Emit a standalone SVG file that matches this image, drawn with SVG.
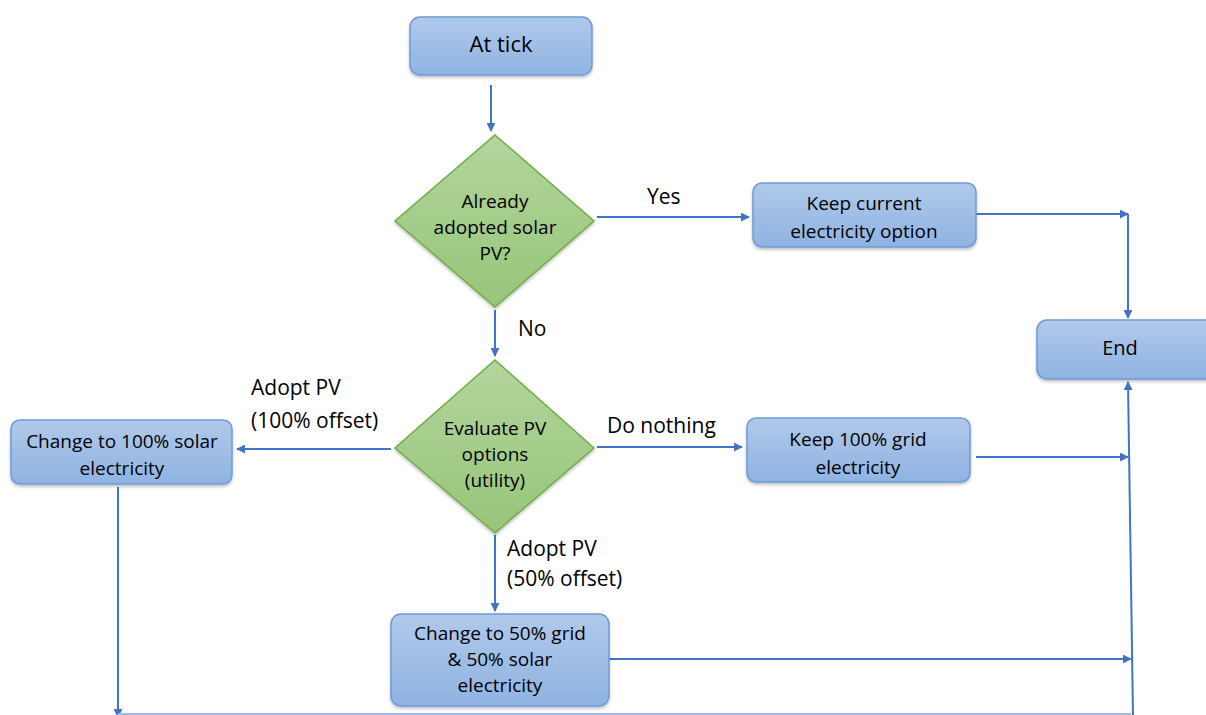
<svg xmlns="http://www.w3.org/2000/svg" width="1206" height="715" viewBox="0 0 1206 715">
<defs>
<linearGradient id="gb" x1="0" y1="0" x2="0" y2="1"><stop offset="0" stop-color="#b0c9ea"/><stop offset="1" stop-color="#8fb3e2"/></linearGradient>
<linearGradient id="gg" x1="0" y1="0" x2="0" y2="1"><stop offset="0" stop-color="#b2d59c"/><stop offset="1" stop-color="#97c579"/></linearGradient>
<marker id="ar" viewBox="0 0 10 10" refX="9" refY="5" markerWidth="4.5" markerHeight="4.5" orient="auto-start-reverse"><path d="M0,0 L10,5 L0,10 z" fill="#4472c4"/></marker>
<filter id="sh" x="-10%" y="-10%" width="120%" height="130%"><feDropShadow dx="0" dy="2" stdDeviation="1.5" flood-color="#000" flood-opacity="0.25"/></filter>
</defs>
<style>
.box{fill:url(#gb);stroke:#6d9ad6;stroke-width:1.5;filter:url(#sh)}
.dia{fill:url(#gg);stroke:#70ad47;stroke-width:1.5;filter:url(#sh)}
.t{font-family:"Open Sans","Liberation Sans",sans-serif;font-size:19px;fill:#000;text-anchor:middle}
.l{font-family:"Open Sans","Liberation Sans",sans-serif;font-size:21px;fill:#000}
.c{fill:none;stroke:#4472c4;stroke-width:2}
.ca{fill:none;stroke:#4472c4;stroke-width:2;marker-end:url(#ar)}
</style>
<g id="connectors">
<line class="ca" x1="491" y1="85" x2="491" y2="131"/>
<line class="ca" x1="597" y1="217" x2="749" y2="217"/>
<line class="ca" x1="976" y1="214" x2="1128" y2="214"/>
<line class="ca" x1="1128" y1="214" x2="1128" y2="318"/>
<line class="ca" x1="495" y1="310" x2="495" y2="356"/>
<line class="ca" x1="391" y1="449" x2="237" y2="449"/>
<line class="ca" x1="597" y1="447" x2="742" y2="447"/>
<line class="ca" x1="976" y1="457" x2="1128" y2="457"/>
<line class="ca" x1="495" y1="535" x2="495" y2="611"/>
<line class="ca" x1="609" y1="659" x2="1131" y2="659"/>
<line class="ca" x1="118" y1="487" x2="118" y2="717"/>
<line x1="118" y1="714" x2="1131" y2="714" stroke="#9ebbe6" stroke-width="2"/>
<line class="ca" x1="1133" y1="716" x2="1128" y2="382"/>
<text class="l" x="647" y="204">Yes</text>
<text class="l" x="518" y="336">No</text>
<text class="l" x="251" y="395">Adopt PV</text>
<text class="l" x="251" y="428">(100% offset)</text>
<text class="l" x="607" y="433">Do nothing</text>
<text class="l" x="507" y="556">Adopt PV</text>
<text class="l" x="507" y="586">(50% offset)</text>
</g>
<g id="n-tick"><rect class="box" x="410" y="17" width="182" height="58" rx="10"/><text class="t" x="501" y="52" style="font-size:22px">At tick</text></g>
<g id="n-adopted"><polygon class="dia" points="495,135 594,221 495,307 395,221"/><text class="t" x="495" y="208">Already</text><text class="t" x="495" y="234">adopted solar</text><text class="t" x="495" y="260">PV?</text></g>
<g id="n-keepcur"><rect class="box" x="753" y="183" width="223" height="64" rx="9"/><text class="t" x="864" y="210">Keep current</text><text class="t" x="864" y="238">electricity option</text></g>
<g id="n-end"><rect class="box" x="1037" y="320" width="180" height="59" rx="10"/><text class="t" x="1120" y="355" style="font-size:20px">End</text></g>
<g id="n-eval"><polygon class="dia" points="495,360 594,448 495,533 395,448"/><text class="t" x="495" y="435">Evaluate PV</text><text class="t" x="495" y="461">options</text><text class="t" x="495" y="487">(utility)</text></g>
<g id="n-solar100"><rect class="box" x="11" y="420" width="221" height="64" rx="9"/><text class="t" x="122" y="448">Change to 100% solar</text><text class="t" x="122" y="475">electricity</text></g>
<g id="n-grid100"><rect class="box" x="747" y="418" width="223" height="64" rx="9"/><text class="t" x="858" y="446">Keep 100% grid</text><text class="t" x="858" y="474">electricity</text></g>
<g id="n-half"><rect class="box" x="391" y="614" width="218" height="92" rx="10"/><text class="t" x="500" y="640">Change to 50% grid</text><text class="t" x="500" y="666">&amp; 50% solar</text><text class="t" x="500" y="692">electricity</text></g>
</svg>
